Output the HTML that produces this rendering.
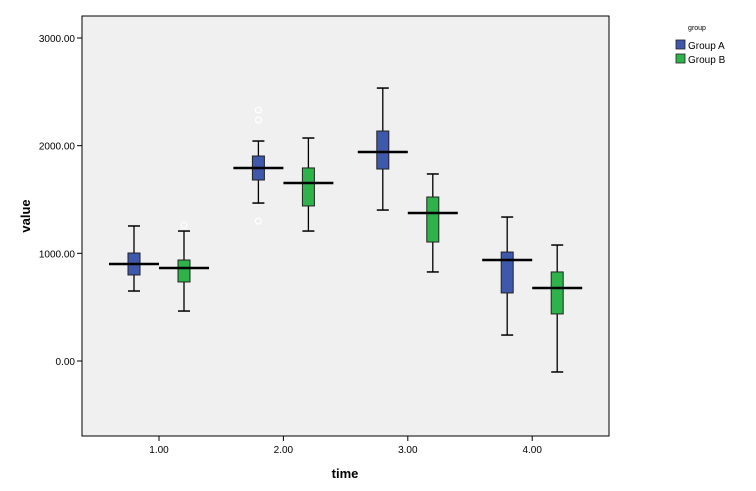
<!DOCTYPE html>
<html><head><meta charset="utf-8"><style>
body{margin:0;background:#fff;}
svg{display:block;font-family:"Liberation Sans",Arial,sans-serif;}
</style></head><body>
<svg id="chart" width="756" height="491">
<rect x="82" y="16" width="527" height="420" fill="#f0f0f0" stroke="#000" stroke-width="1"/>
<g id="yaxis"></g>
<g id="xaxis"></g>
<g id="marks"></g>
<text x="30" y="216" font-size="13" font-weight="bold" text-anchor="middle" transform="rotate(-90 30 216)">value</text>
<text x="345" y="478" font-size="13" font-weight="bold" text-anchor="middle">time</text>
<g>
<text x="697" y="30" font-size="7" text-anchor="middle">group</text>
<g><rect x="676" y="40" width="9" height="9" fill="#3e58ac" stroke="#222" stroke-width="0.8"/><text x="688" y="49" font-size="10">Group A</text></g>
<g><rect x="676" y="54" width="9" height="9" fill="#2eb34a" stroke="#222" stroke-width="0.8"/><text x="688" y="63" font-size="10">Group B</text></g>
</g>
</svg>
<script>
const categories=["1.00","2.00","3.00","4.00"];
const yTicks=[0,1000,2000,3000];
const aMin=[650,1467,1402,241], aQ1=[799,1681,1783,632], aMed=[901,1793,1941,938], aQ3=[1003,1904,2136,1012], aMax=[1254,2043,2535,1337];
const bMin=[464,1207,827,-102], bQ1=[734,1440,1105,437], bMed=[864,1653,1375,678], bQ3=[938,1793,1523,827], bMax=[1207,2071,1737,1077];
const aOut=[[],[2330,2238,1300],[],[]];
const bOut=[[1260],[],[],[]];
const NS="http://www.w3.org/2000/svg";
const y=v=>361-v*0.10767;
const x=i=>159+i*124.4;
function mk(tag,attrs,parent){const e=document.createElementNS(NS,tag);for(const k in attrs)e.setAttribute(k,attrs[k]);parent.appendChild(e);return e;}
const ya=document.getElementById('yaxis'),xa=document.getElementById('xaxis'),m=document.getElementById('marks');
yTicks.forEach(t=>{
  const l=mk('line',{x1:77,x2:82,y1:y(t),y2:y(t),stroke:'#000'},ya);
  
  
  const tx=mk('text',{x:75,y:y(t)+4,'font-size':10,'text-anchor':'end'},ya);
  tx.textContent=t.toFixed(2);
  
  
});
categories.forEach((c,i)=>{
  const l=mk('line',{x1:x(i),x2:x(i),y1:436,y2:441,stroke:'#000'},xa);
  
  
  const tx=mk('text',{x:x(i),y:453,'font-size':10,'text-anchor':'middle'},xa);
  tx.textContent=c;
  
  
});
function box(cx,mn,q1,md,q3,mx,outs,col,name){
  const g=mk('g',{},m);
  
  
  mk('line',{x1:cx,x2:cx,y1:y(mx),y2:y(mn),stroke:'#000','stroke-width':1.3},g);
  mk('line',{x1:cx-6,x2:cx+6,y1:y(mx),y2:y(mx),stroke:'#000','stroke-width':1.5},g);
  mk('line',{x1:cx-6,x2:cx+6,y1:y(mn),y2:y(mn),stroke:'#000','stroke-width':1.5},g);
  mk('rect',{x:cx-6,y:y(q3),width:12,height:y(q1)-y(q3),fill:col,stroke:'#222','stroke-width':1},g);
  mk('line',{x1:cx-25,x2:cx+25,y1:y(md),y2:y(md),stroke:'#000','stroke-width':2.5},g);
  outs.forEach(o=>mk('circle',{cx:cx,cy:y(o),r:3,fill:'none',stroke:'#fff','stroke-width':1.2},g));
}
categories.forEach((c,i)=>{
  box(x(i)-25,aMin[i],aQ1[i],aMed[i],aQ3[i],aMax[i],aOut[i],'#3e58ac','box-a-'+(i+1));
  box(x(i)+25,bMin[i],bQ1[i],bMed[i],bQ3[i],bMax[i],bOut[i],'#2eb34a','box-b-'+(i+1));
});
</script>
</body></html>
